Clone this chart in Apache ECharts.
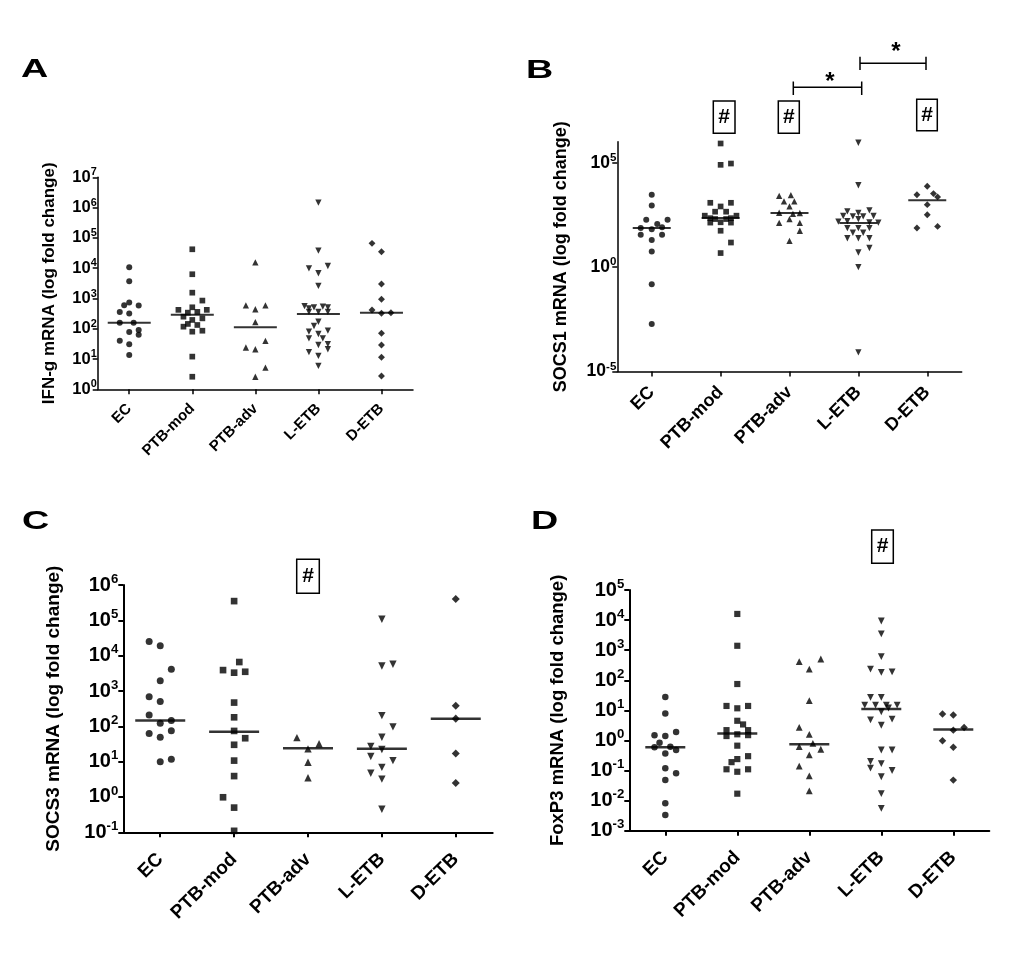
<!DOCTYPE html>
<html><head><meta charset="utf-8">
<script src="https://cdn.jsdelivr.net/npm/echarts/dist/echarts.min.js"></script>
<style>html,body{margin:0;padding:0;background:#fff}#c{width:1022px;height:959px}</style>
</head><body><div id="c"></div>
<script>
const categories = ['EC', 'PTB-mod', 'PTB-adv', 'L-ETB', 'D-ETB'];

// Each point: [horizontal offset within its category column, value]
// Panel A: IFN-g
const A_EC = [[0,1.07e4],[0,3.7e3],[-0.08,600],[0,740],[0.15,590],[-0.15,360],[0,320],[-0.15,158],[0.07,158],[0,78],[0.15,91],[0.15,63],[-0.15,40],[0,31],[0,13.5]];
const A_PTBmod = [[0,4.2e4],[0,6.3e3],[0,1.55e3],[0.16,850],[-0.22,420],[0,510],[0.23,420],[-0.07,340],[0.08,360],[-0.14,250],[0.16,220],[0,195],[-0.14,117],[-0.07,144],[0.08,133],[0.16,86],[0,80],[0,12],[0,2.6]];
const A_PTBadv = [[0,1.55e4],[-0.15,590],[0,440],[0.16,590],[0,166],[0.16,40],[-0.15,24],[0,21],[0.16,5.2],[0,2.6]];
const A_LETB = [[0,1.45e6],[0,3.8e4],[-0.15,9.8e3],[0,6.8e3],[0.15,1.18e4],[0,2.6e3],[-0.22,560],[-0.15,470],[-0.07,510],[0.07,540],[0.15,510],[-0.15,360],[0,360],[0.15,360],[0,170],[-0.07,123],[-0.15,80],[0,67],[0.15,86],[-0.15,48],[0.07,48],[0,29],[0.15,31],[0.15,21],[-0.15,17],[0,12.6],[0,5.9]];
const A_DETB = [[-0.15,6.6e4],[0,3.5e4],[0,3.0e3],[0,940],[-0.15,416],[0,323],[0.15,338],[0,71],[0,29],[0,11.4],[0,2.75]];
const A_med = [158, 290, 112, 307, 338];

// Panel B: SOCS1
const B_EC = [[0,2.9e3],[0,880],[-0.08,187],[0.23,187],[0.08,116],[-0.16,74],[0,65],[0.15,80],[-0.16,35],[0.15,35],[0,20],[0,5.6],[0,0.15],[0,1.9e-3]];
const B_PTBmod = [[0,8.3e5],[0,7.9e4],[0.15,9.1e4],[-0.15,1.2e3],[0.15,1.2e3],[0,800],[-0.08,450],[0.08,450],[-0.23,290],[0.23,290],[-0.15,220],[0.15,220],[-0.08,200],[0.08,200],[-0.15,135],[0,140],[0.15,135],[0,55],[0.15,15],[0,4.7]];
const B_PTBadv = [[-0.15,2.6e3],[0.02,2.8e3],[-0.08,1.4e3],[0.07,1.4e3],[0,800],[-0.15,400],[0.15,390],[0.05,350],[0,200],[-0.15,130],[0.15,130],[0.15,55],[0,18]];
const B_LETB = [[0,9e5],[0,8.3e3],[-0.16,470],[0,390],[0.16,520],[-0.22,280],[-0.08,270],[0.07,270],[0.22,280],[-0.29,150],[-0.16,160],[0,200],[0.16,140],[0.29,135],[-0.16,74],[0,74],[0.16,74],[-0.08,44],[0.07,44],[-0.16,24],[0,24],[0.16,24],[0.16,8.2],[0,5],[0,1.0],[0,8.3e-5]];
const B_DETB = [[-0.15,2.9e3],[0,7.4e3],[0.09,3.3e3],[0.15,2.3e3],[0,980],[0,323],[-0.15,74],[0.15,89]];
const B_med = [74, 224, 390, 130, 1580];

// Panel C: SOCS3
const C_EC = [[-0.15,2.5e4],[0,1.9e4],[0.15,4.1e3],[0,1.96e3],[-0.15,690],[0,500],[-0.15,210],[0,122],[0.15,145],[-0.15,63],[0,49],[0.15,75],[0,10],[0.15,11.7]];
const C_PTBmod = [[0,3.5e5],[0.07,6.6e3],[-0.15,3.9e3],[0,3.3e3],[0.15,3.5e3],[0,470],[0,180],[0,74],[0.15,46],[0,30],[0,10.7],[0,3.9],[-0.15,0.98],[0,0.5],[0,0.11]];
const C_PTBadv = [[-0.15,48],[0.15,32],[0,23],[0,9.6],[0,3.5]];
const C_LETB = [[0,1.07e5],[0,5.1e3],[0.15,5.7e3],[0,200],[0.15,96],[0,49],[-0.15,27],[0,22],[-0.15,14],[0.15,10.7],[0,6.9],[-0.15,4.7],[0,3.2],[0,0.45]];
const C_DETB = [[0,4e5],[0,380],[0,165],[0,17],[0,2.5]];
const C_med = [145, 70, 24, 23, 165];

// Panel D: FoxP3
const D_EC = [[0,28],[0,7.9],[-0.15,1.5],[0,1.4],[0.15,1.9],[-0.08,0.84],[-0.15,0.59],[0.07,0.62],[0.15,0.48],[0,0.37],[0,0.12],[0.15,0.081],[0,0.048],[0,0.0081],[0,0.0033]];
const D_PTBmod = [[0,1.6e4],[0,1.4e3],[0,75],[-0.15,14],[0,11.7],[0.15,14],[0,4.5],[0.08,3.4],[-0.15,2.2],[0.15,2.2],[-0.15,1.4],[0,1.6],[0.15,1.5],[0,0.67],[0.15,0.30],[0,0.24],[-0.08,0.19],[-0.15,0.11],[0,0.091],[0.15,0.11],[0,0.017]];
const D_PTBadv = [[-0.14,415],[0.16,510],[0,235],[0,21],[-0.14,2.7],[0,1.6],[0.05,0.8],[-0.14,0.62],[0,0.33],[0.16,0.51],[-0.14,0.14],[0,0.066],[0,0.021]];
const D_LETB = [[0,9.3e3],[0,3.5e3],[0,610],[-0.15,235],[0,183],[0.15,190],[-0.15,27],[0,27],[-0.23,15],[-0.08,15],[0.07,15],[0.22,15],[0.1,12],[0,9],[-0.15,4.8],[0,3.2],[0.15,5.1],[0,0.48],[0.15,0.48],[-0.15,0.2],[0,0.17],[-0.15,0.12],[0.15,0.10],[0,0.062],[0,0.017],[0,0.0055]];
const D_DETB = [[-0.15,7.6],[0,7],[0,2.2],[0.15,2.7],[-0.15,0.98],[0,0.59],[0,0.048]];
const D_med = [0.59, 1.7, 0.74, 11, 2.3];

const FONT = '"Liberation Sans", Arial, Helvetica, sans-serif';

const panels = [
  {grid:{left:97.7, top:177.3, width:315.3, height:212}, ymin:1, ymax:1e7, name:'IFN-g mRNA (log fold change)',
   nameSize:17, nameGap:40, tick:16.5, xSize:15, xMargin:17, lMargin:1, sym:6, medW:43, lw:1.5,
   groups:[A_EC,A_PTBmod,A_PTBadv,A_LETB,A_DETB], med:A_med},
  {grid:{left:617.3, top:141.8, width:344.4, height:229.7}, ymin:1e-5, ymax:1e6, name:'SOCS1 mRNA (log fold change)',
   nameSize:18, nameGap:47, tick:17.5, xSize:18, xMargin:18, lMargin:1, sym:6, medW:38, lw:1.5, split:true,
   groups:[B_EC,B_PTBmod,B_PTBadv,B_LETB,B_DETB], med:B_med},
  {grid:{left:123.3, top:585, width:369.4, height:247.3}, ymin:0.1, ymax:1e6, name:'SOCS3 mRNA (log fold change)',
   nameSize:19, nameGap:60, tick:20, xSize:19, xMargin:24, lMargin:5, sym:7, medW:50, lw:2,
   groups:[C_EC,C_PTBmod,C_PTBadv,C_LETB,C_DETB], med:C_med},
  {grid:{left:629.3, top:590, width:360, height:240.7}, ymin:1e-3, ymax:1e5, name:'FoxP3 mRNA (log fold change)',
   nameSize:18.5, nameGap:62, tick:20, xSize:19, xMargin:24, lMargin:5, sym:6.5, medW:40, lw:2,
   groups:[D_EC,D_PTBmod,D_PTBadv,D_LETB,D_DETB], med:D_med}
];

const shapes = ['circle', 'rect', 'triangle', 'triangle', 'diamond'];
const rot = [0, 0, 0, 180, 0];
const sizeK = [1, 0.95, 1.05, 1.05, 1.15];

function labelFmt(v) {
  const e = Math.round(Math.log10(v));
  return '{b|10}{s|' + e + '}';
}
function richFor(f) {
  return {
    b: {fontSize: f, fontWeight: 'bold', fontFamily: FONT, color: '#000', lineHeight: f * 1.25},
    s: {fontSize: f * 0.66, fontWeight: 'bold', fontFamily: FONT, color: '#000', lineHeight: f * 0.66, verticalAlign: 'top'}
  };
}

const grids = [], xAxes = [], yAxes = [], series = [];
panels.forEach((p, pi) => {
  grids.push(Object.assign({}, p.grid));
  const gi = grids.length - 1;
  xAxes.push({
    type: 'category', gridIndex: gi, data: categories, boundaryGap: true,
    axisLine: {show: true, onZero: false, lineStyle: {color: '#000', width: p.lw}},
    axisTick: {show: true, alignWithLabel: true, length: 5, lineStyle: {color: '#000', width: p.lw}},
    axisLabel: {rotate: 45, interval: 0, margin: p.xMargin, color: '#000', fontSize: p.xSize, fontWeight: 'bold', fontFamily: FONT},
    splitLine: {show: false}
  });
  xAxes.push({type: 'value', gridIndex: gi, min: -0.5, max: 4.5, show: false});
  const valIdx = xAxes.length - 1;
  yAxes.push({
    type: 'log', logBase: 10, gridIndex: gi, min: p.ymin, max: p.ymax,
    name: p.name, nameLocation: 'middle', nameGap: p.nameGap,
    nameTextStyle: {fontSize: p.nameSize, fontWeight: 'bold', color: '#000', fontFamily: FONT},
    axisLine: {show: true, onZero: false, lineStyle: {color: '#000', width: p.lw}},
    axisTick: {show: !p.split, length: 5, lineStyle: {color: '#000', width: p.lw}},
    minorTick: {show: false},
    splitLine: {show: false},
    axisLabel: {show: !p.split, margin: p.lMargin, formatter: labelFmt, rich: richFor(p.tick)}
  });
  const yIdx = yAxes.length - 1;
  p.groups.forEach((g, k) => {
    series.push({
      type: 'scatter', xAxisIndex: valIdx, yAxisIndex: yIdx, clip: false,
      symbol: shapes[k], symbolRotate: rot[k], symbolSize: p.sym * sizeK[k],
      itemStyle: {color: '#000'}, silent: true,
      data: g.map(d => [k + d[0], d[1]])
    });
  });
  series.push({
    type: 'scatter', xAxisIndex: valIdx, yAxisIndex: yIdx, clip: false, silent: true,
    symbol: 'rect', symbolSize: [p.medW, p.lw + 0.5], itemStyle: {color: '#000'}, z: 3,
    data: p.med.map((m, k) => [k, m])
  });
  if (p.split) {
    // label-only axis for the SOCS1 panel: ticks at 10^-5, 10^0, 10^5
    const decadePx = p.grid.height / 11;
    grids.push({left: p.grid.left, width: p.grid.width, top: p.grid.top + decadePx, height: p.grid.height - decadePx});
    const g2 = grids.length - 1;
    xAxes.push({type: 'value', gridIndex: g2, min: 0, max: 1, show: false});
    yAxes.push({
      type: 'log', logBase: 10, gridIndex: g2, min: 1e-5, max: 1e5, splitNumber: 2,
      axisLine: {show: false, onZero: false}, splitLine: {show: false}, minorTick: {show: false},
      axisTick: {show: true, length: 5, lineStyle: {color: '#000', width: p.lw}},
      axisLabel: {margin: p.lMargin, formatter: labelFmt, rich: richFor(p.tick)}
    });
  }
});

function boxHash(x, y, w, h) {
  return [
    {type: 'rect', shape: {x: x, y: y, width: w, height: h}, style: {fill: 'none', stroke: '#000', lineWidth: 1.5}},
    {type: 'text', x: x + w / 2, y: y + h / 2, style: {text: '#', font: 'bold 21px ' + FONT, fill: '#000', align: 'center', verticalAlign: 'middle'}}
  ];
}
function letter(t, x, y) {
  return {type: 'text', x: x, y: y, scaleX: 1.45, style: {text: t, font: 'bold 26px ' + FONT, fill: '#000', align: 'left', verticalAlign: 'middle'}};
}
function bracket(x1, x2, y, yt, yb, sx, sy) {
  return [
    {type: 'line', shape: {x1: x1, y1: y, x2: x2, y2: y}, style: {stroke: '#000', lineWidth: 1.5}},
    {type: 'line', shape: {x1: x1, y1: yt, x2: x1, y2: yb}, style: {stroke: '#000', lineWidth: 1.5}},
    {type: 'line', shape: {x1: x2, y1: yt, x2: x2, y2: yb}, style: {stroke: '#000', lineWidth: 1.5}},
    {type: 'text', x: sx, y: sy, style: {text: '*', font: 'bold 24px ' + FONT, fill: '#000', align: 'center', verticalAlign: 'middle'}}
  ];
}

const graphic = [
  letter('A', 21, 70), letter('B', 526, 71), letter('C', 22, 522), letter('D', 531, 522),
  ...boxHash(713.3, 101, 21.7, 32.3),
  ...boxHash(778.3, 101, 21, 32.3),
  ...boxHash(916.7, 99.3, 20.6, 31.4),
  ...boxHash(296.7, 559.3, 22.6, 34),
  ...boxHash(871.7, 530, 21.6, 33.3),
  ...bracket(793.3, 861.7, 87.3, 81.5, 95, 830, 82),
  ...bracket(860, 926, 63.3, 56.7, 70, 896, 52)
];

const chart = echarts.init(document.getElementById('c'), null, {renderer: 'canvas'});
chart.setOption({
  backgroundColor: '#fff',
  animation: false,
  grid: grids, xAxis: xAxes, yAxis: yAxes, series: series, graphic: graphic
});
</script></body></html>
